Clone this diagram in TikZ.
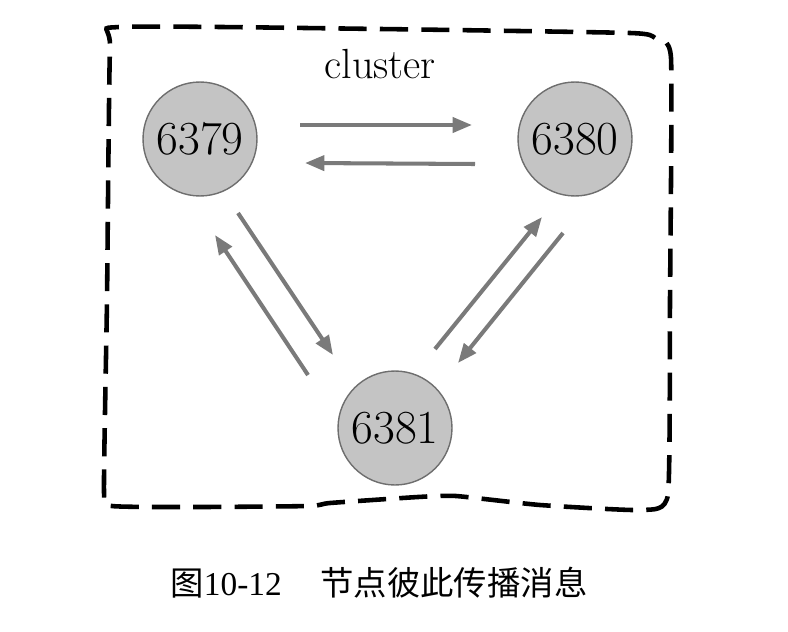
\documentclass[tikz,border=0pt]{standalone}
\usepackage{fontspec}
\usepackage{tikz}
\usetikzlibrary{arrows.meta,calc}
\newfontfamily\cjkfont{Noto Sans CJK SC}
\newfontfamily\numfont{Liberation Serif}
\definecolor{nodeGray}{HTML}{C4C4C4}
\definecolor{nodeEdge}{HTML}{6E6E6E}
\definecolor{msgGray}{HTML}{7A7A7A}

\begin{document}
\begin{tikzpicture}[
  x=0.02cm, y=-0.02cm,
  server/.style={circle, draw=nodeEdge, line width=0.8pt, fill=nodeGray,
                 minimum size=2.28cm, inner sep=0pt,
                 font=\fontsize{27}{32}\selectfont},
  msg/.style={-{Triangle[length=11pt,width=8.5pt]}, draw=msgGray, line width=2.3pt},
  border/.style={dash pattern=on 16pt off 7.5pt, line width=2.6pt},
]
  \useasboundingbox (0,0) rectangle (788,632);

  \node[server] (n6379) at (200,139) {6379};
  \node[server] (n6380) at (575,139) {6380};
  \node[server] (n6381) at (395,428) {6381};
  \node[font=\fontsize{24}{28}\selectfont] (cluster) at (380,64) {cluster};

  % messages sent both ways between each pair
  \draw[msg] ($(n6379)+(100,-14)$) -- ($(n6380)+(-103,-14)$);
  \draw[msg] ($(n6380)+(-100,25)$) -- ($(n6379)+(105,24)$);
  \draw[msg] ($(n6379)+(38,74)$) -- ($(n6381)+(-62,-73)$);
  \draw[msg] ($(n6381)+(-87,-53)$) -- ($(n6379)+(15,96)$);
  \draw[msg] ($(n6381)+(40,-79)$) -- ($(n6380)+(-33,78)$);
  \draw[msg] ($(n6380)+(-12,94)$) -- ($(n6381)+(63,-65)$);

  % hand drawn cluster border
  \draw[border] plot[smooth cycle, tension=0.3] coordinates {
    (119,27) (380,29) (630,33) (655,38) (671,58) (670,300) (668,494)
    (643,510) (540,505) (456,496) (418,497) (330,503) (310,506)
    (200,507) (112,506) (104,492) (107,300) (110,48)};

  \node[font=\fontsize{19}{22}\selectfont] (caption) at (379,583)
    {{\cjkfont 图}{\numfont 10-12}\hspace{22pt}{\cjkfont 节点彼此传播消息}};
\end{tikzpicture}
\end{document}
